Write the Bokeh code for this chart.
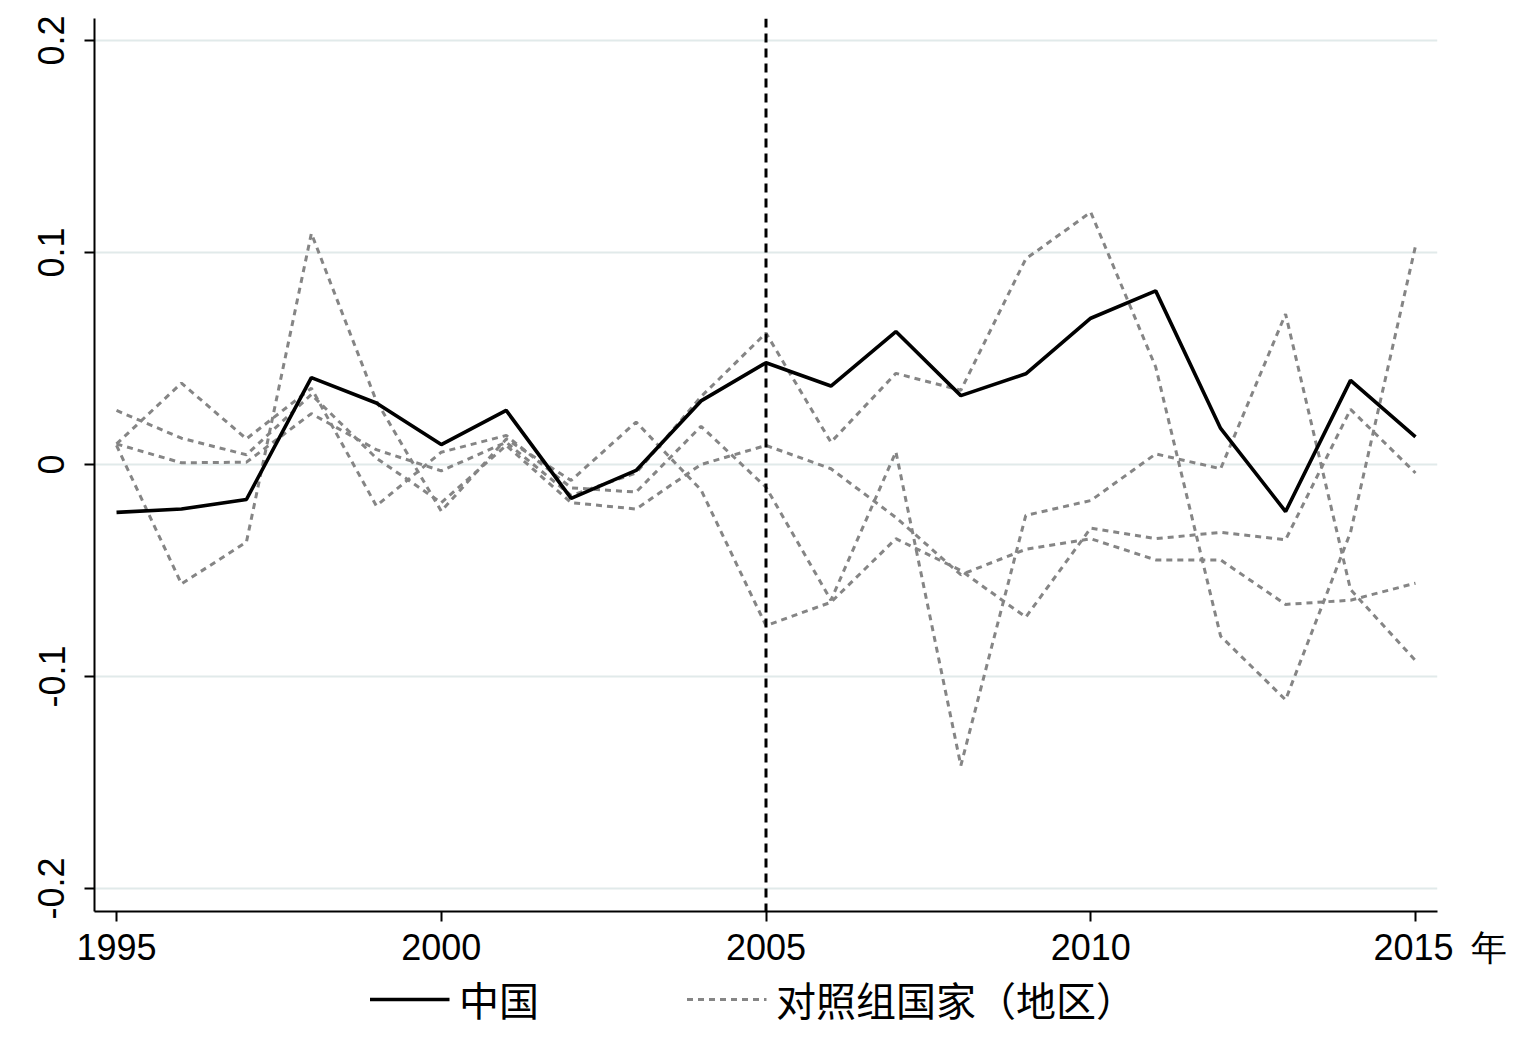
from bokeh.plotting import figure
from bokeh.models import Range1d, FixedTicker, Span, Legend, LegendItem
from bokeh.layouts import column
from bokeh.embed import file_html
from bokeh.resources import INLINE

years = list(range(1995, 2016))
china = [-0.0226, -0.0210, -0.0165, 0.0410, 0.0290, 0.0094, 0.0255, -0.0160, -0.0028, 0.0300,
         0.0480, 0.0370, 0.0627, 0.0325, 0.0428, 0.0690, 0.0819, 0.0170, -0.0222, 0.0397, 0.0130]
control_1 = [0.0255, 0.0124, 0.0046, 0.0330, 0.0030, -0.0180, 0.0090, -0.0180, -0.0210, 0.0000,
             0.0090, -0.0020, -0.0250, -0.0520, -0.0400, -0.0350, -0.0450, -0.0450, -0.0660, -0.0640, -0.0560]
control_2 = [0.0097, 0.0384, 0.0121, 0.0360, -0.0195, 0.0058, 0.0137, -0.0110, -0.0130, 0.0180,
             -0.0107, -0.0640, 0.0060, -0.1420, -0.0240, -0.0170, 0.0050, -0.0020, 0.0710, -0.0590, -0.0925]
control_3 = [0.0097, 0.0008, 0.0011, 0.0240, 0.0070, -0.0030, 0.0105, -0.0146, -0.0040, 0.0320,
             0.0620, 0.0105, 0.0430, 0.0350, 0.0970, 0.1190, 0.0460, -0.0810, -0.1110, -0.0320, 0.1030]
control_4 = [0.0090, -0.0563, -0.0366, 0.1090, 0.0300, -0.0220, 0.0120, -0.0075, 0.0200, -0.0120,
             -0.0760, -0.0650, -0.0350, -0.0500, -0.0720, -0.0300, -0.0350, -0.0320, -0.0355, 0.0260, -0.0040]
controls = [control_1, control_2, control_3, control_4]

x_ticks = [1995, 2000, 2005, 2010, 2015]
x_tick_labels = ["1995", "2000", "2005", "2010", "\u2003\u20022015\u2002年"]
y_ticks = [-0.2, -0.1, 0, 0.1, 0.2]
y_tick_labels = ["-0.2", "-0.1", "0", "0.1", "0.2"]
treat_year = 2005
label_china = "中国"
label_control = "对照组国家（地区）"

CHINA_STYLE = dict(line_color="black", line_width=3.6)
CTRL_STYLE = dict(line_color="#858585", line_width=3.0, line_dash="6 5")

p = figure(frame_width=1343, frame_height=893,
           x_range=Range1d(1994.661, 2015.339), y_range=Range1d(-0.21085, 0.21038),
           output_backend="svg", toolbar_location=None,
           min_border_left=94, min_border_top=18, min_border_right=70, min_border_bottom=60)
p.outline_line_color = None
p.background_fill_color = "white"

p.xgrid.visible = False
p.ygrid.ticker = FixedTicker(ticks=y_ticks)
p.ygrid.grid_line_color = "#e1eaea"
p.ygrid.grid_line_width = 2

for ax in (p.xaxis, p.yaxis):
    ax.axis_line_color = "black"
    ax.axis_line_width = 2
    ax.major_tick_line_color = "black"
    ax.major_tick_line_width = 2
    ax.major_tick_out = 10
    ax.major_tick_in = 0
    ax.minor_tick_line_color = None
    ax.major_label_text_font = "Liberation Sans"
    ax.major_label_text_font_size = "36px"
    ax.major_label_text_color = "black"

p.xaxis.ticker = FixedTicker(ticks=x_ticks)
p.xaxis.major_label_overrides = {v: s for v, s in zip(x_ticks, x_tick_labels)}
p.xaxis.major_label_standoff = 5
p.yaxis.ticker = FixedTicker(ticks=y_ticks)
p.yaxis.major_label_overrides = {v: s for v, s in zip(y_ticks, y_tick_labels)}
p.yaxis.major_label_orientation = "vertical"
p.yaxis.major_label_standoff = 20

for c in controls:
    p.line(years, c, **CTRL_STYLE)

p.line(years, china, **CHINA_STYLE)

p.add_layout(Span(location=treat_year, dimension="height", line_color="black",
                  line_width=3, line_dash="9 6"))

# legend strip below the chart (its ranges keep the series out of view; only the keys show)
leg = figure(width=1481, height=56, x_range=Range1d(0, 1), y_range=Range1d(0, 1),
             output_backend="svg", toolbar_location=None,
             x_axis_type=None, y_axis_type=None,
             min_border_left=0, min_border_right=0, min_border_top=0, min_border_bottom=0)
leg.outline_line_color = None
r1 = leg.line(years, china, **CHINA_STYLE)
r2 = leg.line(years, control_1, **CTRL_STYLE)
legend = Legend(items=[LegendItem(label=label_china, renderers=[r1]),
                       LegendItem(label=label_control, renderers=[r2])],
                location="center", orientation="horizontal",
                glyph_width=80, glyph_height=40, label_standoff=10, spacing=147,
                padding=0, margin=0, border_line_color=None, background_fill_alpha=0,
                label_text_font="Noto Sans CJK SC", label_text_font_size="40px",
                label_text_color="black")
leg.add_layout(legend, "center")

layout = column(p, leg, spacing=0)
open("out.html", "w").write(file_html(layout, INLINE))
